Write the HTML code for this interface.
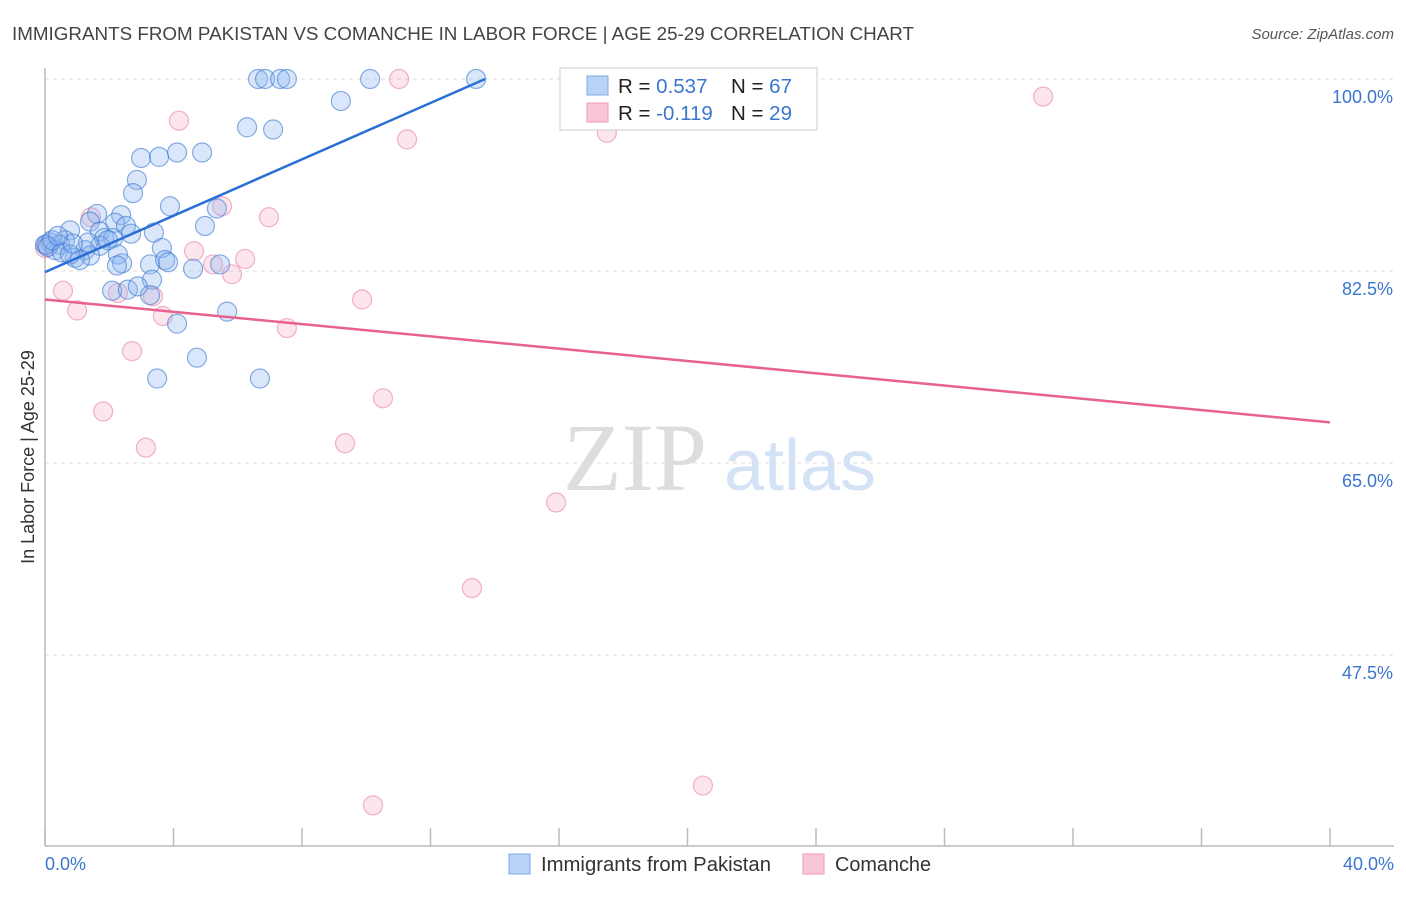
<!DOCTYPE html>
<html><head><meta charset="utf-8"><style>
body{margin:0;background:#fff;font-family:"Liberation Sans",sans-serif;}
</style></head><body>
<svg id="chart" width="1406" height="892" xmlns="http://www.w3.org/2000/svg" font-family="Liberation Sans, sans-serif">
<text x="12" y="40" font-size="18.5" fill="#444" textLength="902" lengthAdjust="spacingAndGlyphs">IMMIGRANTS FROM PAKISTAN VS COMANCHE IN LABOR FORCE | AGE 25-29 CORRELATION CHART</text>
<text x="1394" y="39" font-size="15" fill="#555" font-style="italic" text-anchor="end">Source: ZipAtlas.com</text>
<g>
<text x="635" y="490" font-size="96" fill="#ddd" font-family="Liberation Serif, serif" text-anchor="middle">ZIP</text>
<text x="800" y="490" font-size="72" fill="#d4e2f5" text-anchor="middle">atlas</text>
</g>
<g id="grid"></g>
<line x1="45" y1="68" x2="45" y2="846" stroke="#bbb" stroke-width="1.5"/>
<line x1="45" y1="846" x2="1394" y2="846" stroke="#bbb" stroke-width="1.5"/>
<text transform="translate(34,457) rotate(-90)" font-size="18" fill="#333" text-anchor="middle">In Labor Force | Age 25-29</text>
<text x="45" y="870" font-size="18" fill="#3a76d0">0.0%</text>
<text x="1394" y="870" font-size="18" fill="#3a76d0" text-anchor="end">40.0%</text>
<g id="pts"></g>
<g id="trend"></g>
<g>
<rect x="560" y="68" width="257" height="62" fill="#fff" stroke="#ccc"/>
<rect x="587" y="76" width="21" height="19" fill="#b9d3f7" stroke="#7ea8e4"/>
<rect x="587" y="103" width="21" height="19" fill="#f9c6d6" stroke="#ee9ab5"/>
<text x="618" y="93" font-size="20.5" fill="#222">R = <tspan fill="#3a76d0">0.537</tspan><tspan x="731">N = </tspan><tspan fill="#3a76d0">67</tspan></text>
<text x="618" y="120" font-size="20.5" fill="#222">R = <tspan fill="#3a76d0">-0.119</tspan><tspan x="731">N = </tspan><tspan fill="#3a76d0">29</tspan></text>
</g>
<g>
<rect x="509" y="854" width="21" height="20" fill="#b9d3f7" stroke="#7ea8e4"/>
<text x="541" y="871" font-size="20" fill="#333" textLength="230" lengthAdjust="spacingAndGlyphs">Immigrants from Pakistan</text>
</g>
<g>
<rect x="803" y="854" width="21" height="20" fill="#f9c6d6" stroke="#ee9ab5"/>
<text x="835" y="871" font-size="20" fill="#333" textLength="96" lengthAdjust="spacingAndGlyphs">Comanche</text>
</g>
</svg>
<script>
const yTicks=[100,82.5,65,47.5];
const yTickLabels=["100.0%","82.5%","65.0%","47.5%"];
const xTicks=[0,4,8,12,16,20,24,28,32,36,40];
const blueX=[6.63,6.85,7.32,7.53,10.12,13.42,9.21,6.29,7.10,2.99,3.55,4.11,4.89,2.86,2.74,3.89,4.98,5.35,1.62,2.37,1.40,2.18,2.52,0.78,1.71,3.39,2.68,1.84,2.12,0.62,0.16,0.47,0.0,1.71,3.64,1.25,2.27,1.40,0.31,0.93,1.09,2.40,3.27,3.74,3.83,2.24,4.61,5.45,3.33,2.09,2.58,2.89,3.27,5.67,4.11,4.73,3.49,6.69,0.05,0.09,0.22,0.53,0.78,1.34,1.96,0.87,0.40];
const blueY=[100,100,100,100,100,100,98.0,95.6,95.4,92.8,92.9,93.3,93.3,90.8,89.6,88.4,86.6,88.2,87.7,87.6,87.0,86.9,86.6,86.2,86.1,86.0,85.9,85.5,85.5,85.3,85.1,84.9,84.9,84.8,84.6,84.4,84.0,83.9,84.4,83.7,83.5,83.2,83.1,83.5,83.3,83.0,82.7,83.1,81.7,80.7,80.8,81.1,80.3,78.8,77.7,74.6,72.7,72.7,84.9,84.7,85.3,84.2,84.0,85.1,85.3,85.0,85.7];
const pinkX=[11.02,31.07,4.17,11.27,17.49,5.51,1.43,6.97,4.64,5.23,6.23,5.82,0.56,2.27,3.36,9.87,1.00,3.67,7.53,2.71,10.52,1.81,9.34,3.14,15.91,13.29,20.48,10.21,0.0];
const pinkY=[100,98.4,96.2,94.5,95.1,88.4,87.4,87.4,84.3,83.1,83.6,82.2,80.7,80.5,80.2,79.9,78.9,78.4,77.3,75.2,70.9,69.7,66.8,66.4,61.4,53.6,35.6,33.8,84.6];
const blueTrend=[[0,82.4],[13.7,100]];
const pinkTrend=[[0,79.9],[40,68.7]];
const NS="http://www.w3.org/2000/svg";
const xs=v=>45+v/40*1285;
const ys=v=>79+(100-v)/17.5*192;
function mk(t,a,p){const e=document.createElementNS(NS,t);for(const k in a)e.setAttribute(k,a[k]);p.appendChild(e);return e;}
const grid=document.getElementById('grid');
yTicks.forEach((t,i)=>{
 const l=mk('line',{x1:45,x2:1394,y1:ys(t),y2:ys(t),stroke:'#ddd','stroke-dasharray':'4,4'},grid);
 
 
 const tx=mk('text',{x:1393,y:ys(t)+24,'font-size':18,fill:'#3a76d0','text-anchor':'end'},grid);
 tx.textContent=yTickLabels[i];
 
 
});
xTicks.forEach(t=>{
 const l=mk('line',{x1:xs(t),x2:xs(t),y1:828,y2:846,stroke:'#bbb','stroke-width':1.5},grid);
 
 
});
const pts=document.getElementById('pts');
pinkX.forEach((x,i)=>{
 const c=mk('circle',{cx:xs(x),cy:ys(pinkY[i]),r:9.5,fill:'rgba(246,170,195,0.3)',stroke:'rgba(232,120,155,0.55)','stroke-width':1.2},pts);
 
 
});
blueX.forEach((x,i)=>{
 const c=mk('circle',{cx:xs(x),cy:ys(blueY[i]),r:9.5,fill:'rgba(140,180,240,0.32)',stroke:'rgba(60,120,210,0.6)','stroke-width':1.2},pts);
 
 
});
const tr=document.getElementById('trend');
const b=mk('line',{x1:xs(blueTrend[0][0]),y1:ys(blueTrend[0][1]),x2:xs(blueTrend[1][0]),y2:ys(blueTrend[1][1]),stroke:'#2a6fd6','stroke-width':2.5},tr);


const p=mk('line',{x1:xs(pinkTrend[0][0]),y1:ys(pinkTrend[0][1]),x2:xs(pinkTrend[1][0]),y2:ys(pinkTrend[1][1]),stroke:'#e8628f','stroke-width':2.5},tr);


</script>
</body></html>
